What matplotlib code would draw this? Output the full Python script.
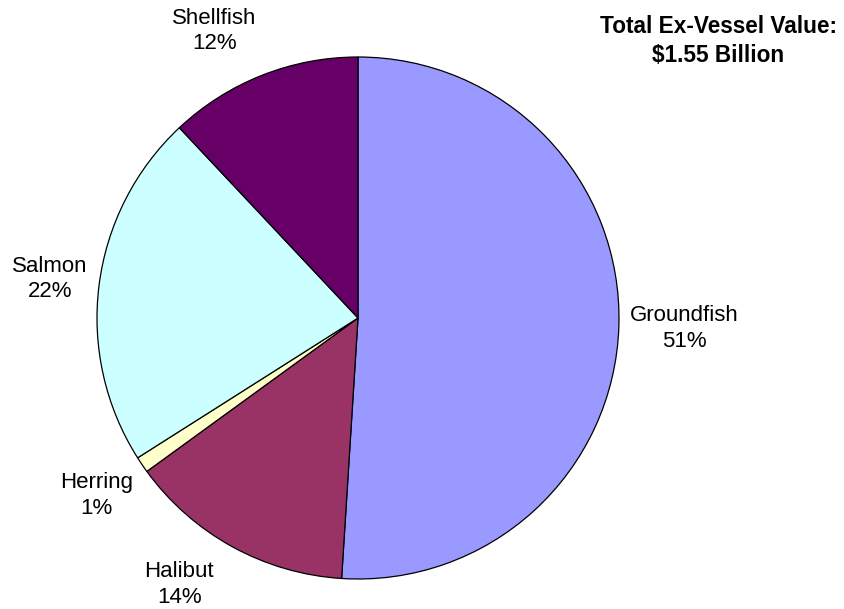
import numpy as np
import matplotlib
matplotlib.use("Agg")
import matplotlib.pyplot as plt

plt.rcParams['font.family'] = ['Liberation Sans', 'DejaVu Sans']

# ex-vessel value share by species group
species = ["Groundfish", "Halibut", "Herring", "Salmon", "Shellfish"]
shares = [51, 14, 1, 22, 12]
colors = ["#9999FF", "#993366", "#FFFFCC", "#CCFFFF", "#660066"]
# label placement: distance from centre (radius units) and angle nudge (deg)
label_dist = [1.25, 1.23, 1.21, 1.19, 1.23]
label_shift = [0, -5, 0, 0, 5]

W, H = 844, 609
fig = plt.figure(figsize=(W / 100, H / 100), dpi=100)

# pie centre and radius in pixels
cx, cy, R = 358, 318, 261
ax = fig.add_axes([(cx - R) / W, (H - cy - R) / H, 2 * R / W, 2 * R / H])

wedges, _ = ax.pie(shares, colors=colors, startangle=90, counterclock=False,
                   radius=1, wedgeprops=dict(edgecolor="black", linewidth=0.9))

# pie() resets the limits, so set them afterwards
ax.set_xlim(-1, 1)
ax.set_ylim(-1, 1)
ax.set_aspect("equal")
ax.axis("off")

for w, name, pct, d, s in zip(wedges, species, shares, label_dist, label_shift):
    mid = np.deg2rad((w.theta1 + w.theta2) / 2 + s)
    ax.text(d * np.cos(mid), d * np.sin(mid), f"{name}\n{pct}%",
            ha="center", va="center", fontsize=16, linespacing=1.3,
            clip_on=False)

fig.text(718 / W, 1 - 41 / H, "Total Ex-Vessel Value:\n$1.55 Billion",
         ha="center", va="center", fontsize=16.3, fontweight="bold",
         linespacing=1.3)

fig.savefig("out.png", dpi=100)
